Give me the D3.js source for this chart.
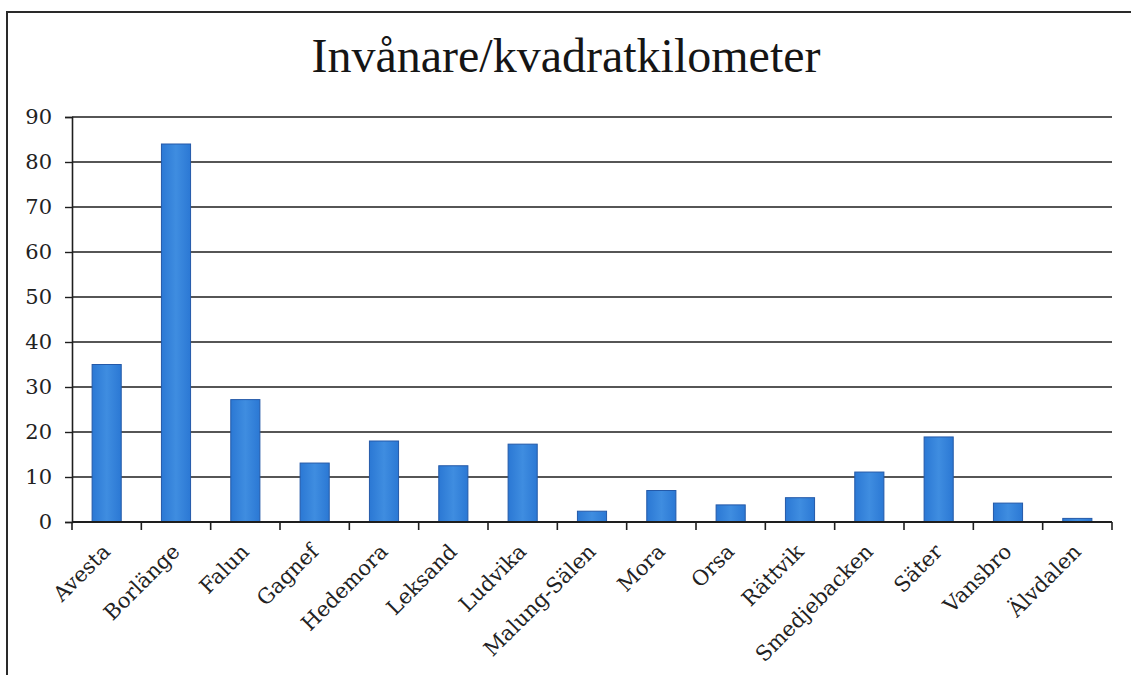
<!DOCTYPE html>
<html>
<head>
<meta charset="utf-8">
<script src="https://cdn.jsdelivr.net/npm/d3@7"></script>
<style>
  body { margin: 0; background: #fff; overflow: hidden; }
  svg { display: block; }
  .tick text { font-family: 'DejaVu Serif', serif; fill: #222; }
</style>
</head>
<body>
<div id="chart"></div>
<script>
// Data
const kommuner = ['Avesta', 'Borlänge', 'Falun', 'Gagnef', 'Hedemora', 'Leksand', 'Ludvika',
  'Malung-Sälen', 'Mora', 'Orsa', 'Rättvik', 'Smedjebacken', 'Säter', 'Vansbro', 'Älvdalen']
const invanarePerKm2 = [35, 84, 27.2, 13.1, 18, 12.5, 17.3, 2.4, 7, 3.8, 5.4, 11.1, 18.9, 4.2, 0.8]
const yTicks = [0, 10, 20, 30, 40, 50, 60, 70, 80, 90]
const title = 'Invånare/kvadratkilometer'

// Canvas
const width = 1131,
  height = 675,
  plotLeft = 72,
  plotRight = 1112,
  plotTop = 117,
  plotBottom = 522

let svg = d3.select('#chart')
  .append('svg')
  .attr('width', width)
  .attr('height', height)

// frame: only top and left edges are inside the picture
svg.append('path')
  .attr('d', `M7,${height} V12 H${width}`)
  .attr('fill', 'none')
  .attr('stroke', '#2a2a2a')
  .attr('stroke-width', 2)

svg.append('text')
  .attr('x', 566)
  .attr('y', 72)
  .attr('text-anchor', 'middle')
  .style('font-family', "'Liberation Serif', serif")
  .style('font-size', '48px')
  .attr('fill', '#151515')
  .text(title)

let x = d3.scaleBand()
  .domain(kommuner)
  .range([plotLeft, plotRight])
  .paddingInner(0.58)
  .paddingOuter(0.29)

let y = d3.scaleLinear()
  .domain([0, 90])
  .range([plotBottom, plotTop])

// gridlines
svg.append('g')
  .selectAll('line')
  .data(yTicks.slice(1))
  .enter()
  .append('line')
  .attr('x1', plotLeft).attr('x2', plotRight)
  .attr('y1', d => y(d)).attr('y2', d => y(d))
  .attr('stroke', '#1e1e1e')
  .attr('stroke-width', 1.6)

// bar gradient
let grad = svg.append('defs').append('linearGradient')
  .attr('id', 'barGrad')
  .attr('x1', '0%').attr('x2', '100%')
grad.append('stop').attr('offset', '0%').attr('stop-color', '#2b78d4')
grad.append('stop').attr('offset', '50%').attr('stop-color', '#3f8de0')
grad.append('stop').attr('offset', '100%').attr('stop-color', '#2b78d4')

svg.selectAll('rect.bar')
  .data(invanarePerKm2)
  .enter()
  .append('rect')
  .attr('class', 'bar')
  .attr('x', (d, i) => x(kommuner[i]))
  .attr('y', d => y(d))
  .attr('width', x.bandwidth())
  .attr('height', d => plotBottom - y(d))
  .attr('fill', 'url(#barGrad)')
  .attr('stroke', '#2459a8')
  .attr('stroke-width', 1)

// y axis
let yAxis = svg.append('g')
  .attr('transform', `translate(${plotLeft},0)`)
  .call(d3.axisLeft(y).tickValues(yTicks).tickSize(7).tickPadding(13))
yAxis.selectAll('text').style('font-size', '21px')
yAxis.select('.domain').attr('stroke', '#1e1e1e').attr('stroke-width', 1.6)
yAxis.selectAll('.tick line').attr('stroke', '#1e1e1e').attr('stroke-width', 1.4)

// x axis: ticks at category boundaries
let step = x.step()
let xAxis = svg.append('g')
  .attr('transform', `translate(0,${plotBottom})`)
xAxis.append('line')
  .attr('x1', plotLeft).attr('x2', plotRight)
  .attr('stroke', '#1e1e1e').attr('stroke-width', 1.8)
xAxis.selectAll('line.tk')
  .data(d3.range(kommuner.length + 1))
  .enter()
  .append('line')
  .attr('class', 'tk')
  .attr('x1', i => plotLeft + i * step).attr('x2', i => plotLeft + i * step)
  .attr('y1', 0).attr('y2', 8)
  .attr('stroke', '#1e1e1e').attr('stroke-width', 1.6)

xAxis.selectAll('text')
  .data(kommuner)
  .enter()
  .append('text')
  .attr('text-anchor', 'end')
  .attr('transform', d => `translate(${x(d) + x.bandwidth() / 2 + 5},${31}) rotate(-45)`)
  .style('font-family', "'DejaVu Serif', serif")
  .style('font-size', '21px')
  .attr('fill', '#222')
  .text(d => d)
</script>
</body>
</html>
